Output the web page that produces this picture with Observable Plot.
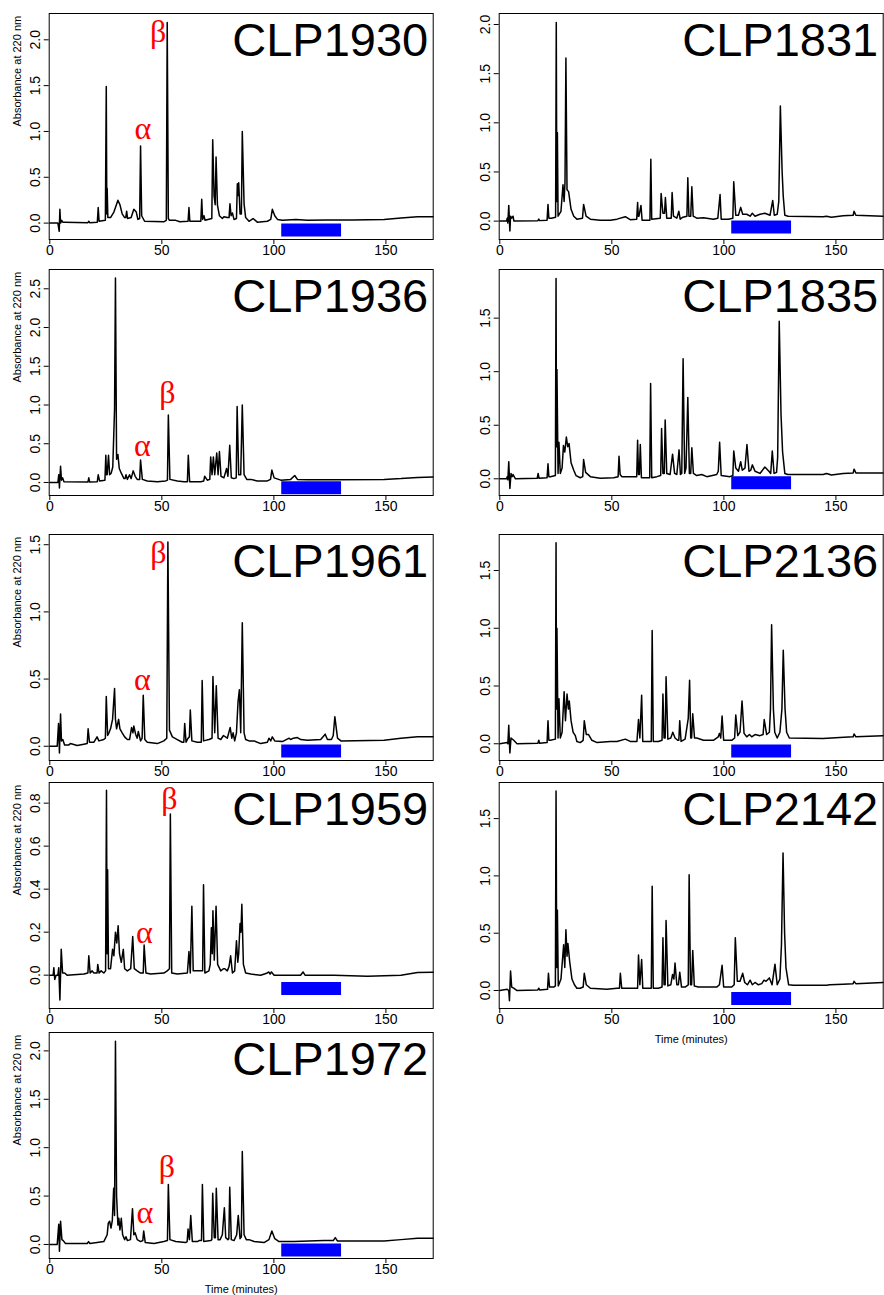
<!DOCTYPE html>
<html><head><meta charset="utf-8">
<script src="https://cdn.jsdelivr.net/npm/d3@7"></script>
<script src="https://cdn.jsdelivr.net/npm/@observablehq/plot@0.6"></script>
<style>
body{margin:0;background:#fff}
#chart{position:relative;width:884px;height:1295px;overflow:hidden}
#chart svg{position:absolute}
</style></head><body><div id="chart"></div>
<script>
// panel order: row by row, left then right
const panelNames = ["CLP1930","CLP1831","CLP1936","CLP1835","CLP1961","CLP2136","CLP1959","CLP2142","CLP1972"];
const xTicks = [0, 50, 100, 150];
const xDomain = [-0.27, 171.1];
const yDomains = [[-0.179,2.287],[-0.187,2.112],[-0.168,2.749],[-0.156,1.954],[-0.106,1.576],[-0.145,1.812],[-0.155,0.896],[-0.157,1.815],[-0.145,2.19]];
const yTickSets = [[0,0.5,1,1.5,2],[0,0.5,1,1.5,2],[0,0.5,1,1.5,2,2.5],[0,0.5,1,1.5],[0,0.5,1,1.5],[0,0.5,1,1.5],[0,0.2,0.4,0.6,0.8],[0,0.5,1,1.5],[0,0.5,1,1.5,2]];
const barStart = 103.5, barEnd = 130.2;
const barY = [-0.075,-0.061,-0.068,-0.037,-0.036,-0.062,-0.062,-0.07,-0.058];
// alpha / beta labels on the left-column panels (panel index -> [time, absorbance])
const alphaLabels = {0:[41.5,0.92], 2:[41.3,0.34], 4:[41.3,0.415], 6:[42.2,0.15], 8:[42.4,0.218]};
const betaLabels  = {0:[48.3,1.98], 2:[52.5,1.02], 4:[48.5,1.366], 6:[53.4,0.774], 8:[52.2,0.696]};
const yTitle = "Absorbance at 220 nm";
const xTitle = "Time (minutes)";

const trace1930 = [[0,0],[3.6,0.0],[4.2,-0.09],[4.5,0.15],[4.8,0.0],[5.3,0.03],[5.8,0.01],[6.5,0.01],[17,0.005],[17.4,0.02],[17.8,0.005],[21.2,0.01],[21.6,0.17],[22.0,0.02],[24.8,0.03],[25.2,1.49],[25.45,0.1],[25.6,0.38],[25.9,0.06],[27.1,0.06],[28.6,0.12],[29.3,0.17],[30.4,0.25],[31.3,0.2],[32.3,0.1],[33.4,0.06],[33.9,0.06],[34.3,0.13],[34.7,0.05],[36.3,0.06],[37.5,0.15],[38.6,0.12],[39.3,0.04],[40.1,0.05],[40.5,0.84],[41.0,0.08],[42.3,0.02],[51,0.015],[52.0,0.03],[52.4,2.19],[52.9,0.05],[53.4,0.03],[56.2,0.03],[58,0.015],[61.7,0.02],[62.1,0.17],[62.5,0.02],[67.4,0.02],[67.8,0.26],[68.2,0.04],[68.8,0.08],[69.3,0.03],[72.3,0.05],[72.7,0.91],[73.3,0.3],[73.8,0.2],[74.2,0.72],[74.8,0.2],[75.7,0.08],[77,0.05],[77.7,0.07],[79.2,0.06],[80.0,0.06],[80.4,0.21],[80.9,0.08],[81.5,0.11],[82.2,0.04],[83.3,0.05],[83.7,0.43],[84.0,0.3],[84.3,0.44],[84.9,0.1],[85.5,0.1],[85.9,1.0],[86.7,0.21],[87.4,0.06],[88.9,0.02],[90.7,0.05],[92.6,0.01],[97.1,0.02],[98.6,0.04],[99.3,0.15],[100.4,0.08],[101.6,0.04],[103.8,0.03],[109.8,0.04],[115,0.03],[123.2,0.035],[135,0.035],[149.2,0.04],[156.7,0.055],[164.1,0.068],[171,0.068]];
const trace1831 = [[0,0],[3.0,0.0],[3.3,0.03],[3.6,-0.02],[4.0,0.16],[4.3,0.0],[4.5,-0.1],[4.8,0.05],[5.3,0.03],[5.9,0.05],[6.3,0.0],[17,0.005],[17.4,0.02],[17.8,0.005],[21.1,0.01],[21.5,0.17],[21.9,0.03],[23,0.03],[24.9,0.04],[25.2,2.02],[25.45,0.2],[25.7,0.9],[26.0,0.05],[27.3,0.1],[28.2,0.37],[28.7,0.2],[29.1,0.4],[29.5,1.66],[30,0.32],[30.7,0.3],[31.8,0.12],[33,0.05],[34.4,0.02],[36.9,0.03],[37.4,0.17],[38.5,0.05],[40.4,0.02],[44.8,0.01],[49.3,0.01],[52.3,0.02],[56,0.045],[58.2,0.015],[61.1,0.02],[61.5,0.19],[61.8,0.05],[62.1,0.05],[63,0.16],[63.5,0.01],[67.0,0.01],[67.4,0.63],[67.8,0.02],[71.6,0.03],[72,0.28],[72.8,0.08],[73.5,0.08],[73.9,0.24],[74.5,0.03],[76.5,0.03],[76.9,0.29],[77.5,0.05],[79,0.03],[79.9,0.1],[80.5,0.02],[81.7,0.04],[83.5,0.05],[83.9,0.44],[84.4,0.05],[85.2,0.05],[85.7,0.35],[86.3,0.05],[87.9,0.03],[90.9,0.035],[95.3,0.02],[97.3,0.03],[98.3,0.27],[98.8,0.02],[102,0.02],[104.0,0.03],[104.4,0.4],[105.3,0.06],[106.5,0.06],[107.5,0.14],[108.4,0.07],[110.2,0.07],[111.7,0.05],[112.7,0.08],[113.9,0.05],[116.1,0.07],[118.3,0.08],[120.6,0.06],[121.8,0.21],[122.5,0.06],[123.8,0.07],[124.5,0.2],[125.2,1.17],[126,0.5],[126.5,0.25],[127.2,0.06],[128.7,0.05],[144.3,0.045],[145.8,0.05],[148,0.04],[153.2,0.055],[157.7,0.06],[158.1,0.1],[158.9,0.06],[171,0.05]];
const trace1936 = [[0,0],[3.6,0.0],[4.0,0.1],[4.3,-0.07],[4.8,0.21],[5.2,0.03],[5.7,0.06],[6.3,0.01],[17,0.005],[17.4,0.06],[17.8,0.005],[21.2,0.01],[21.6,0.1],[22.2,0.02],[24.6,0.03],[25,0.35],[25.3,0.1],[25.6,0.1],[26.2,0.35],[26.7,0.1],[27.4,0.12],[28.1,0.2],[28.9,0.95],[29.3,2.64],[29.8,0.3],[30.4,0.36],[31,0.18],[31.9,0.12],[33.1,0.05],[33.6,0.05],[34,0.1],[34.6,0.04],[35.6,0.1],[36.3,0.05],[37.2,0.15],[38.1,0.08],[39,0.04],[40.1,0.04],[40.5,0.29],[41.3,0.04],[43.5,0.02],[48,0.01],[51.7,0.02],[52.5,0.03],[52.9,0.87],[53.6,0.04],[56.9,0.02],[59.9,0.01],[61.4,0.01],[61.8,0.35],[62.4,0.01],[67.4,0.01],[68.7,0.02],[69.1,0.08],[70.3,0.03],[71.4,0.04],[71.8,0.33],[72.4,0.1],[73,0.33],[73.6,0.1],[74.5,0.38],[75.1,0.1],[75.7,0.4],[76.4,0.08],[77.7,0.06],[78.9,0.18],[79.5,0.08],[80.3,0.48],[81,0.06],[82.2,0.05],[83.2,0.06],[83.6,0.98],[84.3,0.1],[85.2,0.1],[85.9,1.0],[86.7,0.1],[87.9,0.04],[89.7,0.04],[92.6,0.02],[97.1,0.02],[98.5,0.04],[99.1,0.16],[100.1,0.06],[103.1,0.03],[107.5,0.04],[109.3,0.09],[110.5,0.04],[115,0.035],[126.9,0.035],[149.2,0.04],[156.7,0.05],[164.1,0.065],[171,0.07]];
const trace1835 = [[0,0],[3.0,0.0],[3.3,0.02],[3.6,-0.01],[4.0,0.16],[4.3,0.0],[4.5,-0.09],[5,0.05],[5.5,0.02],[5.9,0.04],[7,0.0],[16.7,0.005],[17.1,0.05],[17.5,0.005],[21.1,0.01],[21.5,0.14],[21.9,0.02],[22.6,0.02],[24.8,0.03],[25.1,1.87],[25.3,0.3],[25.5,1.02],[26,0.05],[26.4,0.34],[27,0.05],[27.8,0.1],[28.4,0.31],[29,0.25],[29.7,0.39],[30.3,0.3],[30.9,0.33],[31.8,0.15],[33,0.08],[34,0.03],[35.9,0.01],[37,0.02],[37.4,0.18],[38.3,0.06],[40.4,0.02],[44.8,0.005],[50.8,0.01],[52.8,0.02],[53.2,0.21],[53.7,0.04],[54.5,0.02],[59.7,0.02],[61.1,0.02],[61.5,0.36],[61.9,0.04],[62.3,0.04],[62.7,0.32],[63.2,0.01],[65.6,0.01],[66.9,0.01],[67.3,0.89],[67.8,0.01],[70.1,0.02],[71.8,0.03],[72.2,0.47],[72.8,0.05],[73.4,0.05],[73.8,0.55],[74.5,0.05],[76,0.04],[77.1,0.23],[78,0.05],[79,0.04],[80,0.27],[80.6,0.04],[81.2,0.05],[81.8,1.12],[82.5,0.05],[83.1,0.1],[83.9,0.76],[84.6,0.05],[85.2,0.05],[85.7,0.29],[86.4,0.05],[87.9,0.03],[90.1,0.04],[92.4,0.02],[96.8,0.04],[97.5,0.07],[98.1,0.34],[98.8,0.03],[102.7,0.02],[104.0,0.03],[104.4,0.26],[105.3,0.1],[106.5,0.07],[107.5,0.16],[108.2,0.08],[109.4,0.1],[110.3,0.32],[111.2,0.07],[112,0.08],[112.7,0.13],[113.9,0.07],[116.1,0.05],[118.3,0.11],[120.1,0.07],[120.9,0.05],[121.6,0.26],[122.4,0.05],[123.5,0.06],[124,0.2],[124.7,1.47],[125.5,0.6],[126.2,0.25],[127.2,0.05],[128.5,0.04],[144.3,0.04],[145.8,0.05],[148,0.035],[153.2,0.05],[157.7,0.055],[158.1,0.09],[158.9,0.055],[171,0.055]];
const trace1961 = [[0,0],[3.3,0.0],[3.9,0.17],[4.3,-0.05],[4.8,0.24],[5.2,0.04],[5.8,0.05],[6.6,0.01],[8.5,0.01],[9.2,0.02],[12.2,0.005],[15.2,0.015],[16.7,0.02],[17.1,0.13],[17.7,0.03],[19.7,0.03],[21.1,0.07],[21.9,0.04],[24.1,0.05],[24.8,0.06],[25.2,0.37],[25.8,0.08],[26.4,0.1],[27.1,0.13],[28,0.2],[28.9,0.43],[29.3,0.2],[29.8,0.13],[30.7,0.2],[31.3,0.13],[32.3,0.1],[33.4,0.07],[34.6,0.05],[35.6,0.05],[36.5,0.14],[37.1,0.1],[37.5,0.15],[38.3,0.09],[39,0.06],[39.5,0.11],[40.5,0.04],[41.2,0.06],[41.7,0.38],[42.4,0.05],[43.5,0.03],[48,0.02],[50.9,0.04],[52.2,0.06],[52.7,1.52],[53.4,0.12],[54.7,0.07],[56.9,0.05],[59.1,0.03],[59.8,0.03],[60.2,0.17],[60.8,0.03],[61.7,0.06],[62.3,0.07],[62.7,0.27],[63.4,0.04],[65.8,0.03],[67.6,0.03],[68,0.49],[68.6,0.04],[71,0.05],[72.4,0.06],[72.8,0.52],[73.6,0.1],[74.3,0.45],[75.1,0.06],[76.3,0.05],[77.5,0.08],[79.2,0.06],[80.5,0.14],[81.2,0.06],[81.8,0.1],[82.5,0.04],[83.3,0.1],[84,0.33],[84.6,0.42],[85.2,0.1],[85.9,0.92],[86.7,0.1],[87.4,0.05],[88.9,0.04],[91.2,0.04],[94.1,0.02],[97.1,0.03],[97.8,0.06],[98.6,0.04],[99.3,0.07],[100.4,0.04],[103.8,0.035],[106.8,0.06],[107.5,0.05],[108.7,0.06],[110.5,0.065],[112,0.05],[115,0.045],[120.9,0.05],[122.9,0.09],[123.9,0.05],[125.7,0.05],[126.5,0.08],[127.2,0.22],[128.4,0.06],[129.9,0.04],[149.2,0.045],[156.7,0.06],[164.1,0.07],[171,0.07]];
const trace2136 = [[0,0],[3.3,0.01],[3.6,0.0],[4,0.16],[4.3,0.0],[4.5,-0.08],[5,0.05],[6.2,0.03],[7.7,0.0],[17,0.005],[17.4,0.03],[17.8,0.005],[21.1,0.01],[21.5,0.2],[21.9,0.03],[22.6,0.03],[24.8,0.04],[25.1,1.74],[25.3,0.3],[25.5,1.0],[26,0.05],[26.4,0.39],[27,0.05],[27.8,0.1],[28.7,0.45],[29.3,0.2],[30,0.43],[30.6,0.3],[31,0.37],[31.8,0.2],[32.7,0.1],[33.7,0.07],[34.4,0.02],[35.9,0.01],[37.2,0.03],[37.7,0.2],[38.6,0.08],[39.6,0.08],[41.1,0.03],[43.4,0.01],[49.3,0.02],[52.3,0.02],[56,0.04],[58.2,0.02],[61.2,0.02],[61.9,0.21],[62.5,0.05],[63.3,0.42],[63.8,0.02],[66.4,0.02],[67.6,0.02],[68,0.98],[68.5,0.02],[70.8,0.02],[72.4,0.03],[72.8,0.43],[73.3,0.05],[73.8,0.05],[74.2,0.58],[75,0.04],[76.3,0.05],[77.2,0.1],[78.2,0.05],[79.4,0.03],[79.9,0.03],[80.3,0.2],[80.9,0.02],[82.7,0.04],[84.1,0.22],[84.7,0.55],[85.2,0.05],[85.6,0.05],[86.1,0.26],[86.9,0.05],[87.9,0.05],[90.9,0.03],[95.3,0.03],[97.5,0.06],[98,0.09],[98.6,0.05],[99.2,0.24],[99.9,0.03],[103.5,0.03],[104.8,0.05],[105.3,0.25],[106.2,0.07],[107.2,0.1],[108.1,0.37],[109,0.09],[110.2,0.06],[111.4,0.08],[112.4,0.06],[113.9,0.08],[116.1,0.07],[117.5,0.08],[118,0.21],[119.1,0.08],[120.3,0.1],[120.8,0.3],[121.3,1.03],[122.1,0.3],[122.7,0.1],[123.8,0.05],[125,0.1],[125.9,0.3],[126.5,0.81],[127.3,0.3],[128,0.1],[129.2,0.05],[144.3,0.045],[151.7,0.055],[157.7,0.06],[158.1,0.085],[158.9,0.06],[171,0.07]];
const trace1959 = [[0,0],[1.5,0.0],[1.8,0.035],[2.2,-0.02],[2.8,0.0],[3.6,0.0],[4,0.035],[4.5,-0.115],[5.1,0.12],[5.7,0.01],[6.6,0.01],[7.7,0.0],[15.2,0.005],[17,0.01],[17.4,0.09],[18,0.01],[18.9,0.02],[19.7,0.01],[21.1,0.01],[21.4,0.05],[22,0.01],[22.9,0.02],[24.1,0.01],[24.9,0.02],[25.3,0.86],[25.55,0.1],[25.8,0.49],[26.2,0.03],[27.1,0.03],[28,0.12],[28.6,0.09],[29.3,0.2],[29.9,0.15],[30.5,0.23],[31.1,0.1],[31.9,0.06],[32.8,0.12],[33.4,0.03],[34.6,0.02],[36.1,0.03],[37,0.18],[37.7,0.03],[39,0.02],[40.5,0.01],[41.7,0.01],[42.1,0.14],[42.9,0.01],[45,0.005],[50.9,0.01],[52.4,0.02],[53.4,0.03],[53.8,0.75],[54.4,0.01],[56.9,0.005],[61.4,0.01],[62.1,0.11],[62.7,0.01],[63.4,0.32],[64,0.02],[66.6,0.02],[68.2,0.02],[68.6,0.42],[69.2,0.01],[71,0.02],[71.6,0.05],[72.1,0.22],[72.5,0.1],[72.8,0.3],[73.4,0.07],[74.2,0.32],[74.9,0.05],[76.3,0.02],[77.5,0.03],[78.1,0.03],[79.2,0.02],[80,0.04],[80.7,0.09],[81.5,0.01],[82.5,0.02],[83.3,0.16],[83.9,0.06],[84.3,0.1],[84.9,0.24],[85.3,0.2],[85.7,0.33],[86.4,0.05],[87.4,0.01],[89.7,0.005],[94.1,0.0],[97.1,0.01],[97.7,0.015],[98.3,0.005],[98.9,0.015],[100.1,0.0],[111.9,0.0],[113,0.015],[113.9,0.0],[126.9,0.0],[141.8,-0.005],[156.7,0.0],[164.1,0.012],[171,0.013]];
const trace2142 = [[0,0],[3.3,0.01],[4,0.0],[4.3,-0.09],[4.8,0.17],[5.3,0.03],[6.2,0.02],[7.7,0.0],[17,0.005],[17.4,0.02],[17.8,0.005],[21.3,0.01],[21.7,0.15],[22.2,0.03],[24.1,0.03],[24.8,0.04],[25.1,1.74],[25.4,0.2],[25.7,0.7],[26.1,0.04],[27.3,0.1],[28.5,0.4],[29,0.2],[29.5,0.53],[30,0.3],[30.4,0.41],[31.2,0.25],[32.2,0.1],[33.3,0.05],[34.4,0.02],[35.9,0.02],[37.2,0.03],[37.7,0.15],[38.6,0.05],[40.4,0.02],[47.8,0.01],[52.3,0.02],[53.4,0.02],[53.8,0.15],[54.4,0.02],[59.7,0.02],[61.5,0.02],[61.9,0.31],[62.5,0.05],[63.3,0.27],[63.8,0.02],[66.4,0.02],[67.6,0.02],[68,0.91],[68.5,0.02],[70.8,0.02],[72.4,0.03],[72.8,0.46],[73.3,0.05],[73.8,0.05],[74.2,0.61],[75,0.04],[76.3,0.05],[77.1,0.14],[77.7,0.1],[78.2,0.24],[79,0.05],[79.7,0.05],[80.3,0.16],[81.1,0.03],[82.7,0.03],[84.1,0.05],[84.5,1.01],[85.1,0.05],[85.6,0.05],[86.1,0.35],[86.8,0.04],[88.6,0.03],[92.4,0.03],[96.8,0.03],[98,0.05],[99.2,0.22],[99.9,0.03],[103.5,0.03],[104.6,0.05],[105.1,0.46],[106,0.08],[107.2,0.08],[108.4,0.15],[109.3,0.07],[110.5,0.05],[111.7,0.09],[112.7,0.05],[113.9,0.07],[115.4,0.05],[116.9,0.06],[117.9,0.09],[118.8,0.08],[120.3,0.11],[121.5,0.05],[122.8,0.23],[123.8,0.05],[125,0.1],[125.7,0.4],[126.4,1.2],[127.1,0.5],[127.7,0.2],[128.9,0.05],[131,0.045],[145.8,0.045],[147.3,0.05],[153.2,0.055],[157.7,0.06],[158.1,0.08],[158.9,0.06],[171,0.07]];
const trace1972 = [[0,0],[3.3,0.0],[4,0.21],[4.3,-0.07],[4.8,0.24],[5.4,0.05],[6,0.04],[7,0.01],[12.2,0.01],[16.7,0.01],[17.3,0.03],[17.9,0.01],[21.1,0.02],[24.1,0.03],[25.6,0.1],[26.1,0.22],[26.7,0.24],[27.3,0.17],[27.9,0.25],[28.5,0.58],[28.9,0.3],[29.3,2.1],[29.8,0.5],[30.4,0.2],[30.8,0.27],[31.3,0.15],[31.9,0.27],[32.5,0.1],[33.4,0.05],[34,0.08],[34.6,0.04],[36,0.05],[36.9,0.37],[37.5,0.1],[38.1,0.12],[39,0.05],[40.5,0.03],[41.5,0.04],[41.9,0.14],[42.6,0.02],[46.5,0.01],[50.9,0.03],[52.5,0.04],[52.9,0.62],[53.6,0.05],[56.2,0.03],[60.6,0.02],[61.3,0.03],[61.7,0.16],[62.3,0.05],[62.9,0.3],[63.6,0.03],[65.9,0.03],[66.6,0.04],[67.7,0.04],[68.1,0.62],[68.7,0.03],[71.8,0.04],[72.3,0.05],[72.7,0.53],[73.4,0.07],[73.9,0.07],[74.3,0.58],[75.1,0.05],[76,0.05],[77,0.1],[77.9,0.38],[78.5,0.07],[79.5,0.05],[79.9,0.06],[80.3,0.59],[81,0.05],[82.2,0.04],[83.4,0.1],[84.1,0.3],[84.9,0.06],[85.5,0.08],[85.9,0.96],[86.7,0.1],[87.7,0.05],[88.9,0.05],[91.2,0.03],[95.6,0.02],[97.8,0.05],[99.1,0.14],[100.4,0.06],[102.3,0.03],[109,0.03],[115.7,0.035],[122.4,0.04],[126.5,0.04],[127.4,0.07],[128.4,0.035],[149.2,0.035],[156.7,0.05],[164.1,0.065],[171,0.065]];
const traces = [trace1930, trace1831, trace1936, trace1835, trace1961, trace2136, trace1959, trace2142, trace1972];

// layout (pixels)
const frameTops = [12.7, 269, 534, 781.7, 1031.7];
const frameH = 226;
const colLeft = [0, 442];
const colFrameLeft = [48.7, 498.7];
const colFrameRight = [432.7, 882.7];
const svgW = 442, mTop = 12, mBottom = 42;

const sans = "'Liberation Sans', Arial, Helvetica, sans-serif";
const serif = "'Liberation Serif', 'Times New Roman', serif";
const chart = document.getElementById("chart");

panelNames.forEach((name, i) => {
  const row = Math.floor(i / 2), col = i % 2;
  const marks = [
    Plot.ruleY([{y: barY[i], x1: barStart, x2: barEnd}], {y: "y", x1: "x1", x2: "x2", stroke: "#0000ff", strokeWidth: 13}),
    Plot.line(traces[i], {x: d => d[0], y: d => d[1], stroke: "#000", strokeWidth: 1.5}),
    Plot.frame({stroke: "#000", strokeWidth: 1}),
    Plot.axisX({ticks: xTicks, tickSize: 5, tickPadding: 1, tickFormat: d => String(d), label: null, fontSize: 14}),
    Plot.axisY({ticks: yTickSets[i], tickSize: 5, tickPadding: 4.5, tickRotate: -90, tickFormat: d3.format(".1f"), label: null, fontSize: 14}),
    Plot.text([name], {text: d => d, frameAnchor: "top-right", dx: -5, dy: 9.5, lineAnchor: "top", textAnchor: "end", fontSize: 47, fill: "#000"})
  ];
  if (alphaLabels[i]) {
    marks.push(Plot.text([alphaLabels[i]], {x: d => d[0], y: d => d[1], text: () => "α", fill: "#ff0000", fontSize: 32, fontFamily: serif, lineAnchor: "bottom"}));
    marks.push(Plot.text([betaLabels[i]], {x: d => d[0], y: d => d[1], text: () => "β", fill: "#ff0000", fontSize: 32, fontFamily: serif, lineAnchor: "bottom"}));
  }
  if (col === 0) {
    marks.push(Plot.text([yTitle], {text: d => d, frameAnchor: "left", dx: -32, rotate: -90, fontSize: 11, lineAnchor: "middle"}));
  }
  if (i === 7 || i === 8) {
    marks.push(Plot.text([xTitle], {text: d => d, frameAnchor: "bottom", dy: 31, fontSize: 11, lineAnchor: "middle"}));
  }
  const svg = Plot.plot({
    width: svgW,
    height: mTop + frameH + mBottom,
    marginLeft: colFrameLeft[col] - colLeft[col],
    marginRight: colLeft[col] + svgW - colFrameRight[col],
    marginTop: mTop,
    marginBottom: mBottom,
    x: {domain: xDomain},
    y: {domain: yDomains[i]},
    style: {background: "transparent", overflow: "visible", fontFamily: sans, fontSize: "14px", color: "#000"},
    marks
  });
  svg.style.left = colLeft[col] + "px";
  svg.style.top = (frameTops[row] - mTop) + "px";
  chart.appendChild(svg);
});
</script></body></html>
